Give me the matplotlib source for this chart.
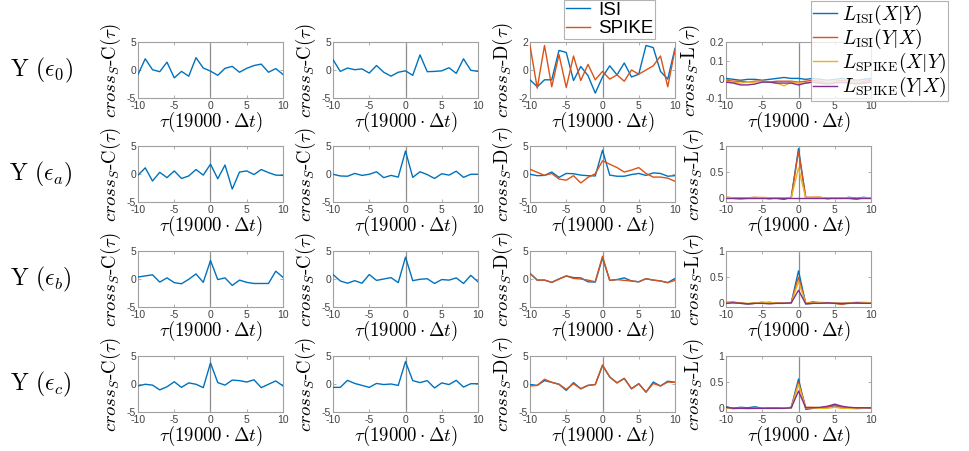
import numpy as np
import matplotlib
matplotlib.use("Agg")
import matplotlib.pyplot as plt
from matplotlib.ticker import FuncFormatter

plt.rcParams['mathtext.fontset'] = 'cm'
plt.rcParams['axes.unicode_minus'] = False
plt.rcParams['font.family'] = ['Liberation Sans', 'DejaVu Sans']

tau = list(range(-10, 11))
tick_x = [-10, -5, 0, 5, 10]
row_names = [r"Y $(\epsilon_0)$", r"Y $(\epsilon_a)$", r"Y $(\epsilon_b)$", r"Y $(\epsilon_c)$"]
col_names = ["C", "C", "D", "L"]
d_legend = ["ISI", "SPIKE"]
l_legend = [r"$L_{\mathrm{ISI}}(X|Y)$", r"$L_{\mathrm{ISI}}(Y|X)$",
            r"$L_{\mathrm{SPIKE}}(X|Y)$", r"$L_{\mathrm{SPIKE}}(Y|X)$"]

# ---- row 0 (epsilon_0)
c1_r0 = [-0.8, 2.0, 0.05, -0.3, 1.4, -1.4, -0.25, -1.1, 2.2, 0.35, -0.2, -0.95, 0.3, 0.65, -0.4, 0.3, 0.8, 1.05, -0.4, 0.25, -0.8]
c2_r0 = [1.85, -0.25, 0.35, 0.05, 0.2, -0.55, 0.8, -0.4, -1.1, -0.4, -0.15, -0.95, 2.7, -0.3, -0.25, -0.15, 0.4, -0.6, 2.0, -0.05, -0.25]
d_isi_r0 = [-0.7, -1.2, -0.7, -0.7, 1.4, 1.25, -0.75, 0.25, -0.4, -1.65, -0.5, 0.3, -0.35, 0.5, -0.5, -0.3, 1.75, 1.6, -0.1, -0.65, 1.55]
d_spk_r0 = [1.75, -1.3, 1.75, -1.2, 1.1, -1.25, 1.0, -0.75, 0.4, -0.7, -0.1, -0.65, -0.35, -0.8, 0.0, -0.3, 0.0, 0.3, 1.0, -1.2, 1.45]
l1_r0 = [0.005, 0.0, -0.005, 0.0, 0.0, -0.005, 0.0, 0.005, 0.01, 0.005, 0.005, 0.0, 0.005, 0.0, -0.005, 0.0, 0.005, 0.0, -0.005, 0.0, 0.005]
l2_r0 = [-0.005, -0.01, -0.01, -0.015, -0.01, -0.01, -0.015, -0.01, -0.01, -0.01, -0.015, -0.01, -0.005, -0.01, -0.015, -0.01, -0.005, -0.01, -0.015, -0.01, -0.005]
l3_r0 = [-0.01, -0.015, -0.02, -0.015, -0.015, -0.01, -0.015, -0.02, -0.035, -0.015, -0.02, -0.02, -0.015, -0.02, -0.01, -0.015, -0.02, -0.015, -0.01, -0.02, -0.015]
l4_r0 = [-0.015, -0.02, -0.03, -0.03, -0.025, -0.015, -0.015, -0.02, -0.02, -0.02, -0.03, -0.02, -0.015, -0.02, -0.025, -0.02, -0.015, -0.02, -0.025, -0.02, -0.015]

# ---- row 1 (epsilon_a)
c1_r1 = [-0.2, 1.1, -1.25, 0.3, -0.65, 0.55, -0.8, -0.35, 0.8, -0.2, 1.75, -0.85, 1.6, -2.7, 0.35, 0.55, -0.1, 0.8, 0.25, -0.2, -0.25]
c2_r1 = [-0.05, -0.35, -0.4, 0.1, -0.25, -0.05, 0.4, -0.65, -0.25, -0.55, 4.1, -0.6, 0.4, -0.1, -0.8, 0.05, -0.2, 0.5, -0.6, -0.05, -0.05]
d_isi_r1 = [-0.05, -0.3, -0.25, 0.35, -0.6, 0.1, 0.05, -0.2, -0.3, -0.35, 4.25, -0.2, -0.4, -0.4, -0.1, 0.1, -0.25, 0.2, 0.1, -0.4, -0.3]
d_spk_r1 = [0.85, 0.3, -0.25, 0.1, -0.9, -1.1, -0.3, -1.6, -0.6, 0.05, 2.35, 1.75, 1.15, 0.35, 0.7, 1.15, 0.1, -0.55, -0.55, -0.75, -1.3]
l1_r1 = [0.01, 0.0, -0.01, 0.0, 0.0, 0.01, 0.0, 0.0, -0.02, 0.02, 0.95, 0.0, 0.01, 0.01, 0.0, 0.0, 0.0, 0.02, 0.0, 0.02, 0.0]
l2_r1 = [0.02, 0.01, 0.01, 0.01, 0.02, 0.01, -0.01, 0.01, 0.0, 0.01, 0.9, 0.02, 0.02, 0.02, -0.01, 0.01, 0.01, 0.0, -0.02, 0.01, 0.0]
l3_r1 = [0.02, 0.01, 0.01, 0.01, 0.01, 0.02, 0.01, 0.01, 0.0, 0.01, 0.58, 0.01, 0.02, 0.02, 0.0, 0.01, 0.01, 0.01, 0.0, 0.01, 0.01]
l4_r1 = [0.0, 0.0, 0.0, 0.0, 0.0, 0.0, 0.0, 0.0, 0.0, 0.0, 0.0, 0.0, 0.0, 0.0, 0.0, 0.0, 0.0, 0.0, 0.0, 0.0, 0.0]

# ---- row 2 (epsilon_b)
c1_r2 = [0.35, 0.55, 0.75, -0.55, 0.2, -0.65, -0.85, -0.05, 0.9, -0.6, 3.3, -0.1, 0.2, -1.15, -0.2, -0.6, -0.8, -0.8, -0.8, 1.4, 0.3]
c2_r2 = [0.8, -0.35, -0.75, -0.3, -0.75, 0.8, -0.25, 0.0, 0.25, -0.65, 3.9, -0.3, -0.05, 0.05, -0.8, -0.1, -0.2, 0.2, -0.8, 0.65, -0.5]
d_isi_r2 = [1.0, -0.2, -0.2, -0.6, 0.0, 0.55, 0.25, 0.2, -0.5, -0.55, 3.75, -0.25, -0.1, 0.2, -0.35, -0.5, 0.05, -0.2, -0.35, -0.65, 0.1]
d_spk_r2 = [1.0, -0.2, -0.2, -0.6, 0.0, 0.55, 0.1, 0.0, -0.2, -0.5, 4.05, -0.25, -0.1, -0.25, -0.35, -0.5, 0.05, -0.2, -0.35, -0.65, -0.25]
l1_r2 = [0.01, 0.02, 0.0, -0.01, 0.0, 0.01, 0.02, 0.0, 0.0, 0.01, 0.62, -0.01, 0.0, 0.01, 0.0, 0.0, -0.01, 0.0, 0.01, 0.0, 0.01]
l2_r2 = [0.02, 0.02, 0.01, -0.01, 0.0, 0.02, 0.0, 0.01, 0.0, 0.01, 0.5, 0.0, 0.03, 0.01, 0.01, 0.0, -0.02, 0.01, 0.0, 0.01, 0.0]
l3_r2 = [0.01, 0.01, 0.0, 0.0, 0.01, 0.02, 0.01, 0.01, 0.0, 0.01, 0.42, 0.0, 0.01, 0.02, 0.01, 0.01, 0.0, 0.01, 0.02, 0.02, 0.01]
l4_r2 = [0.0, 0.01, 0.0, -0.01, 0.0, 0.0, -0.01, 0.0, 0.0, 0.01, 0.25, -0.01, 0.0, 0.0, 0.01, 0.0, 0.0, 0.0, 0.01, 0.0, 0.0]

# ---- row 3 (epsilon_c)
c1_r3 = [-0.35, -0.05, -0.2, -1.05, -0.5, 0.4, -0.6, 0.2, -0.05, -0.65, 3.75, 0.25, -0.2, 0.7, 0.6, 0.35, 0.75, -0.65, -0.05, 0.55, -0.35]
c2_r3 = [-0.6, -0.6, 0.65, 0.1, -0.25, -0.6, 0.1, -0.1, 0.0, -0.25, 4.0, 0.6, 0.25, 0.6, -0.7, 0.2, -0.1, 0.65, -0.55, 0.05, 0.05]
d_isi_r3 = [-0.1, -0.25, 0.6, 0.3, -0.05, -1.15, 0.25, -0.85, -0.25, -0.1, 3.3, 1.25, 0.2, 1.0, -0.85, 0.05, -1.45, 0.35, -0.35, 0.5, 0.3]
d_spk_r3 = [-0.35, -0.25, 0.85, 0.3, -0.05, -0.95, 0.05, -0.85, -0.25, -0.1, 3.4, 1.25, 0.2, 1.0, -0.85, 0.05, -1.45, 0.1, -0.35, 0.35, 0.3]
l1_r3 = [0.03, 0.0, 0.02, 0.01, 0.03, 0.0, 0.0, 0.0, 0.0, 0.02, 0.56, -0.02, 0.0, 0.01, 0.02, 0.05, 0.02, 0.0, 0.01, 0.0, 0.01]
l2_r3 = [0.02, 0.0, 0.01, 0.0, 0.0, 0.0, 0.01, 0.01, 0.01, 0.01, 0.5, 0.02, 0.02, 0.01, 0.02, 0.06, 0.01, 0.01, 0.0, 0.01, 0.01]
l3_r3 = [0.01, -0.01, 0.0, -0.01, 0.0, 0.0, 0.0, 0.0, 0.01, 0.01, 0.46, 0.0, 0.0, 0.0, 0.0, 0.02, 0.0, 0.0, -0.01, 0.0, 0.01]
l4_r3 = [0.02, 0.0, 0.0, 0.0, 0.0, 0.0, 0.0, 0.0, 0.0, 0.01, 0.33, 0.01, 0.01, 0.02, 0.04, 0.08, 0.04, 0.02, 0.01, 0.01, 0.01]

C1 = [c1_r0, c1_r1, c1_r2, c1_r3]
C2 = [c2_r0, c2_r1, c2_r2, c2_r3]
D = [(d_isi_r0, d_spk_r0), (d_isi_r1, d_spk_r1), (d_isi_r2, d_spk_r2), (d_isi_r3, d_spk_r3)]
L = [(l1_r0, l2_r0, l3_r0, l4_r0), (l1_r1, l2_r1, l3_r1, l4_r1),
     (l1_r2, l2_r2, l3_r2, l4_r2), (l1_r3, l2_r3, l3_r3, l4_r3)]

colors = ['#0072BD', '#D95319', '#EDB120', '#7E2F8E']
W, H = 969, 451
fig = plt.figure(figsize=(W / 100, H / 100), dpi=100)

col_left = [138, 333, 530, 726]
row_bottom = [98, 202, 307, 412]
aw, ah = 145, 56
spine_c = '#a0a0a0'
txt_c = '#404040'
lbl_fs = 13.5

fmt = FuncFormatter(lambda v, p: ('%g' % v))

for r in range(4):
    for c in range(4):
        ax = fig.add_axes([col_left[c] / W, 1 - row_bottom[r] / H, aw / W, ah / H])
        ax.axvline(0, color='#8c8c8c', lw=0.9, zorder=1)
        if c == 0:
            ax.plot(tau, C1[r], color=colors[0], lw=1.0, zorder=3)
        elif c == 1:
            ax.plot(tau, C2[r], color=colors[0], lw=1.0, zorder=3)
        elif c == 2:
            h1, = ax.plot(tau, D[r][0], color=colors[0], lw=1.0, zorder=3)
            h2, = ax.plot(tau, D[r][1], color=colors[1], lw=1.0, zorder=3)
            if r == 0:
                leg = fig.legend([h1, h2], d_legend, loc='upper left',
                                 bbox_to_anchor=(564 / W, 1 - 0 / H), fontsize=13.5,
                                 frameon=True, fancybox=False, handlelength=1.3,
                                 handletextpad=0.4, borderpad=0.1, labelspacing=0.05,
                                 borderaxespad=0)
                leg.get_frame().set_edgecolor('#a0a0a0')
                leg.get_frame().set_linewidth(0.8)
        else:
            hs = []
            for k in range(4):
                h, = ax.plot(tau, L[r][k], color=colors[k], lw=1.0, zorder=3)
                hs.append(h)
            if r == 0:
                leg = fig.legend(hs, l_legend, loc='upper left',
                                 bbox_to_anchor=(811 / W, 1 - 1 / H), fontsize=14,
                                 frameon=True, fancybox=False, handlelength=1.25,
                                 handletextpad=0.25, borderpad=0.1, labelspacing=0.0,
                                 borderaxespad=0)
                leg.get_frame().set_edgecolor('#a0a0a0')
                leg.get_frame().set_linewidth(0.8)
                leg.set_zorder(10)

        ax.set_xlim(-10, 10)
        ax.set_xticks(tick_x)
        if c < 3:
            if r == 0 and c == 2:
                ax.set_ylim(-2, 2)
                ax.set_yticks([-2, 0, 2])
            else:
                ax.set_ylim(-5, 5)
                ax.set_yticks([-5, 0, 5])
        else:
            if r == 0:
                ax.set_ylim(-0.1, 0.2)
                ax.set_yticks([-0.1, 0, 0.1, 0.2])
            else:
                ax.set_ylim(-0.07, 1)
                ax.set_yticks([0, 0.5, 1])
        ax.yaxis.set_major_formatter(fmt)
        ax.xaxis.set_major_formatter(fmt)
        ax.tick_params(direction='in', length=2, width=0.6, colors=spine_c,
                       labelcolor=txt_c, labelsize=7.5, top=True, right=True)
        ax.tick_params(axis='x', pad=2.5)
        ax.tick_params(axis='y', pad=1.5)
        for s in ax.spines.values():
            s.set_color(spine_c)
            s.set_linewidth(0.8)
        ax.set_ylabel(r"$cross_S$-" + col_names[c] + r"$(\tau)$", fontfamily='cmr10',
                      fontsize=lbl_fs, labelpad=2.5)
        ax.set_xlabel(r"$\tau(19000\cdot\Delta t)$", fontsize=lbl_fs, labelpad=-1)

    yc = 1 - (row_bottom[r] - ah / 2) / H
    fig.text(41 / W, yc, row_names[r], fontfamily='cmr10', fontsize=17,
             ha='center', va='center')

fig.savefig('out.png', dpi=100)
